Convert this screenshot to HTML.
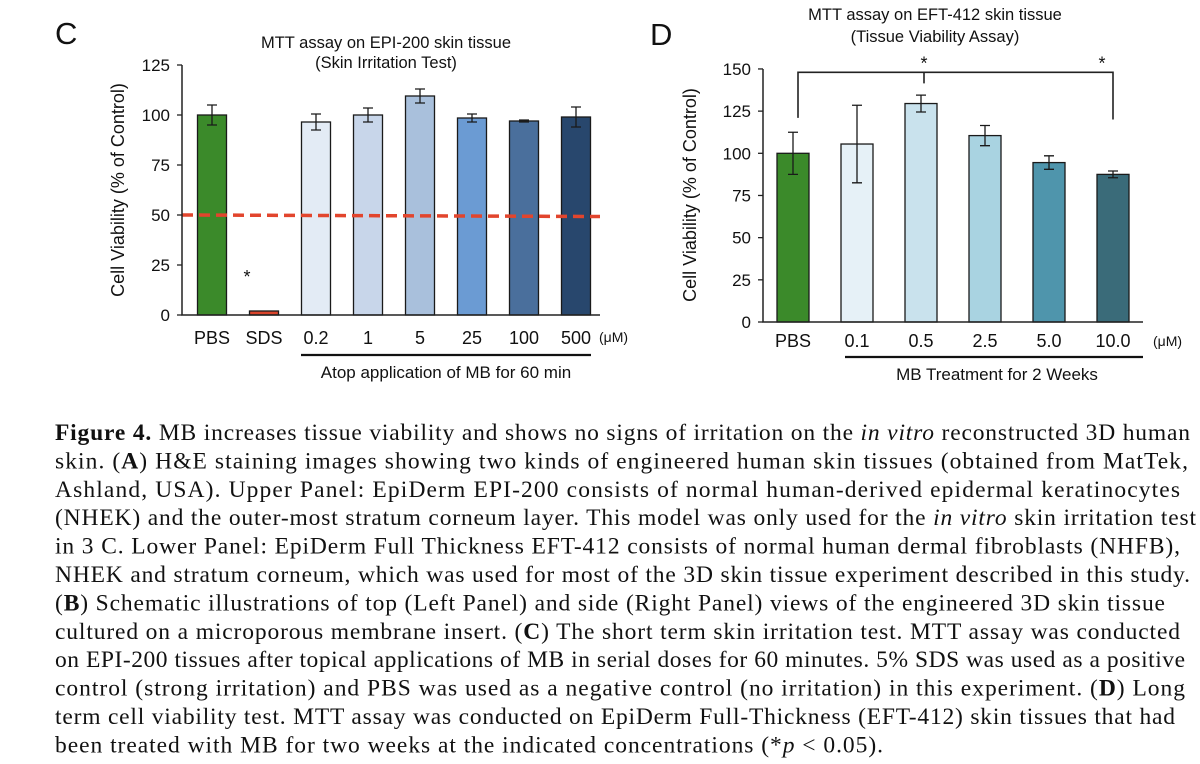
<!DOCTYPE html>
<html><head><meta charset="utf-8"><style>
html,body{margin:0;padding:0;background:#fff;}
svg{display:block;}
.ax{font-family:"Liberation Sans",sans-serif;fill:#111;}
.cap{font-family:"Liberation Serif",serif;font-size:23.5px;fill:#111;}
</style></head><body>
<svg id="fig" width="1200" height="764" viewBox="0 0 1200 764" xmlns="http://www.w3.org/2000/svg">
<rect x="0" y="0" width="1200" height="764" fill="#fff"/>
<g id="chartC"></g>
<g id="chartD"></g>
<g id="caption">
<text class="cap" x="55" y="440" textLength="1135" lengthAdjust="spacing"><tspan font-weight="bold">Figure 4.</tspan>  MB increases tissue viability and shows no signs of irritation on the <tspan font-style="italic">in vitro</tspan> reconstructed 3D human</text>
<text class="cap" x="55" y="468.4" textLength="1133" lengthAdjust="spacing">skin. (<tspan font-weight="bold">A</tspan>) H&amp;E staining images showing two kinds of engineered human skin tissues (obtained from MatTek,</text>
<text class="cap" x="55" y="496.8" textLength="1125" lengthAdjust="spacing">Ashland, USA). Upper Panel: EpiDerm EPI-200 consists of normal human-derived epidermal keratinocytes</text>
<text class="cap" x="55" y="525.2" textLength="1141" lengthAdjust="spacing">(NHEK) and the outer-most stratum corneum layer. This model was only used for the <tspan font-style="italic">in vitro</tspan> skin irritation test</text>
<text class="cap" x="55" y="553.6" textLength="1125" lengthAdjust="spacing">in 3 C. Lower Panel: EpiDerm Full Thickness EFT-412 consists of normal human dermal fibroblasts (NHFB),</text>
<text class="cap" x="55" y="582" textLength="1135" lengthAdjust="spacing">NHEK and stratum corneum, which was used for most of the 3D skin tissue experiment described in this study.</text>
<text class="cap" x="55" y="610.4" textLength="1110" lengthAdjust="spacing">(<tspan font-weight="bold">B</tspan>) Schematic illustrations of top (Left Panel) and side (Right Panel) views of the engineered 3D skin tissue</text>
<text class="cap" x="55" y="638.8" textLength="1125" lengthAdjust="spacing">cultured on a microporous membrane insert. (<tspan font-weight="bold">C</tspan>) The short term skin irritation test. MTT assay was conducted</text>
<text class="cap" x="55" y="667.2" textLength="1130" lengthAdjust="spacing">on EPI-200 tissues after topical applications of MB in serial doses for 60 minutes. 5% SDS was used as a positive</text>
<text class="cap" x="55" y="695.6" textLength="1130" lengthAdjust="spacing">control (strong irritation) and PBS was used as a negative control (no irritation) in this experiment. (<tspan font-weight="bold">D</tspan>) Long</text>
<text class="cap" x="55" y="724" textLength="1120" lengthAdjust="spacing">term cell viability test. MTT assay was conducted on EpiDerm Full-Thickness (EFT-412) skin tissues that had</text>
<text class="cap" x="55" y="752.4" textLength="828" lengthAdjust="spacing">been treated with MB for two weeks at the indicated concentrations (*<tspan font-style="italic">p</tspan> &lt; 0.05).</text>
</g>
</svg>
<script>
// Chart C data
const catsC = ["PBS","SDS","0.2","1","5","25","100","500"];
const valsC = [100, 2, 96.5, 100, 109.5, 98.5, 97, 99];
const errsC = [5, 0, 4, 3.5, 3.5, 2, 0.5, 5];
const colorsC = ["#3b8a2a","#d9442b","#e3ebf5","#c8d6ea","#a9c0dc","#6b9bd3","#4a6f9c","#28476d"];
const ticksC = [0,25,50,75,100,125];
const thresholdC = 50;
// Chart D data
const catsD = ["PBS","0.1","0.5","2.5","5.0","10.0"];
const valsD = [100, 105.5, 129.5, 110.5, 94.5, 87.5];
const errsD = [12.5, 23, 5, 6, 4, 2];
const colorsD = ["#3b8a2a","#e6f1f7","#c9e2ed","#a9d3e1","#4f95ac","#3a6b79"];
const ticksD = [0,25,50,75,100,125,150];

const NS="http://www.w3.org/2000/svg";
function mk(parent, tag, attrs, text){
  const e=document.createElementNS(NS,tag);
  for(const k in attrs) e.setAttribute(k,attrs[k]);
  if(text!==undefined) e.textContent=text;
  parent.appendChild(e);
  return e;
}

// ---------- Chart C ----------
(function(){
  const g=document.getElementById('chartC');
  const axX=182, axRight=600, y0=315, ppu=2.0, x0=212, step=52, bw=29;
  const yS=v=>y0-v*ppu, xS=i=>x0+i*step;
  let t;
  t=mk(g,'text',{class:'ax',x:55,y:44,'font-size':31});t.textContent='C';
  
  
  t=mk(g,'text',{class:'ax',x:386,y:48,'font-size':16.5,'text-anchor':'middle'},'MTT assay on EPI-200 skin tissue');
  
  
  t=mk(g,'text',{class:'ax',x:386,y:68,'font-size':16.5,'text-anchor':'middle'},'(Skin Irritation Test)');
  
  
  t=mk(g,'text',{class:'ax',x:0,y:0,'font-size':18,'text-anchor':'middle',transform:'translate(124,190) rotate(-90)'},'Cell  Viability (% of Control)');
  
  
  ticksC.forEach(v=>{
    const l=mk(g,'line',{x1:axX-5,x2:axX,y1:yS(v),y2:yS(v),stroke:'#222','stroke-width':1.3});
    
    
    const tt=mk(g,'text',{class:'ax',x:axX-12,y:yS(v)+6,'font-size':17,'text-anchor':'end'},String(v));
    
    
  });
  catsC.forEach((c,i)=>{
    const r=mk(g,'rect',{x:xS(i)-bw/2,y:yS(valsC[i]),width:bw,height:valsC[i]*ppu,fill:colorsC[i],stroke:'#1a1a1a','stroke-width':1.3});
    
    
    if(errsC[i]>0){
      const e=mk(g,'path',{d:`M${xS(i)} ${yS(valsC[i]+errsC[i])}V${yS(valsC[i]-errsC[i])}M${xS(i)-5} ${yS(valsC[i]+errsC[i])}h10M${xS(i)-5} ${yS(valsC[i]-errsC[i])}h10`,stroke:'#1a1a1a','stroke-width':1.3,fill:'none'});
      
      
    }
    const tt=mk(g,'text',{class:'ax',x:xS(i),y:y0+29,'font-size':18,'text-anchor':'middle'},c);
    
    
  });
  const th=mk(g,'line',{x1:axX,x2:axRight,y1:yS(thresholdC),y2:yS(thresholdC)+1.5,stroke:'#e2452d','stroke-width':3.5,'stroke-dasharray':'11 6'});
  
  
  const ax=mk(g,'path',{d:`M${axX} ${yS(125)}V${y0}H${axRight}`,stroke:'#222','stroke-width':1.5,fill:'none'});
  
  
  t=mk(g,'text',{class:'ax',x:xS(1)-17,y:yS(16),'font-size':18,'text-anchor':'middle'},'*');
  
  
  t=mk(g,'text',{class:'ax',x:599,y:y0+27,'font-size':14},'(\u03BCM)');
  
  
  const ul=mk(g,'line',{x1:xS(2)-15,x2:xS(7)+15,y1:355,y2:355,stroke:'#111','stroke-width':2.2});
  
  
  t=mk(g,'text',{class:'ax',x:(xS(2)+xS(7))/2,y:378,'font-size':17,'text-anchor':'middle'},'Atop application of MB for 60 min');
  
  
})();

// ---------- Chart D ----------
(function(){
  const g=document.getElementById('chartD');
  const axX=763, axRight=1143, y0=322, ppu=1.687, x0=793, step=64, bw=32;
  const yS=v=>y0-v*ppu, xS=i=>x0+i*step;
  let t;
  t=mk(g,'text',{class:'ax',x:650,y:45,'font-size':31},'D');
  
  
  t=mk(g,'text',{class:'ax',x:935,y:20,'font-size':16.5,'text-anchor':'middle'},'MTT assay on EFT-412 skin tissue');
  
  
  t=mk(g,'text',{class:'ax',x:935,y:42,'font-size':16.5,'text-anchor':'middle'},'(Tissue Viability Assay)');
  
  
  t=mk(g,'text',{class:'ax',x:0,y:0,'font-size':18,'text-anchor':'middle',transform:'translate(696,195) rotate(-90)'},'Cell  Viability (% of Control)');
  
  
  ticksD.forEach(v=>{
    const l=mk(g,'line',{x1:axX-5,x2:axX,y1:yS(v),y2:yS(v),stroke:'#222','stroke-width':1.3});
    
    
    const tt=mk(g,'text',{class:'ax',x:axX-12,y:yS(v)+6,'font-size':17,'text-anchor':'end'},String(v));
    
    
  });
  catsD.forEach((c,i)=>{
    const r=mk(g,'rect',{x:xS(i)-bw/2,y:yS(valsD[i]),width:bw,height:valsD[i]*ppu,fill:colorsD[i],stroke:'#1a1a1a','stroke-width':1.3});
    
    
    const e=mk(g,'path',{d:`M${xS(i)} ${yS(valsD[i]+errsD[i])}V${yS(valsD[i]-errsD[i])}M${xS(i)-5} ${yS(valsD[i]+errsD[i])}h10M${xS(i)-5} ${yS(valsD[i]-errsD[i])}h10`,stroke:'#1a1a1a','stroke-width':1.3,fill:'none'});
    
    
    const tt=mk(g,'text',{class:'ax',x:xS(i),y:y0+25,'font-size':18,'text-anchor':'middle'},c);
    
    
  });
  const ax=mk(g,'path',{d:`M${axX} ${yS(150)}V${y0}H${axRight}`,stroke:'#222','stroke-width':1.5,fill:'none'});
  
  
  const by=yS(148), lx=xS(0)+5, rx=xS(5);
  const br=mk(g,'path',{d:`M${lx} ${yS(121)}V${by}H${rx}V${yS(120)}M${xS(2)+3} ${by}v11`,stroke:'#222','stroke-width':1.6,fill:'none'});
  
  
  t=mk(g,'text',{class:'ax',x:xS(2)+3,y:by-3,'font-size':18,'text-anchor':'middle'},'*');
  
  
  t=mk(g,'text',{class:'ax',x:rx-11,y:by-3,'font-size':18,'text-anchor':'middle'},'*');
  
  
  t=mk(g,'text',{class:'ax',x:1153,y:y0+24,'font-size':14},'(\u03BCM)');
  
  
  const ul=mk(g,'line',{x1:xS(1)-12,x2:axRight,y1:357,y2:357,stroke:'#111','stroke-width':2.2});
  
  
  t=mk(g,'text',{class:'ax',x:(xS(1)+axRight)/2-3,y:380,'font-size':17,'text-anchor':'middle'},'MB Treatment for 2 Weeks');
  
  
})();
</script>
</body></html>
